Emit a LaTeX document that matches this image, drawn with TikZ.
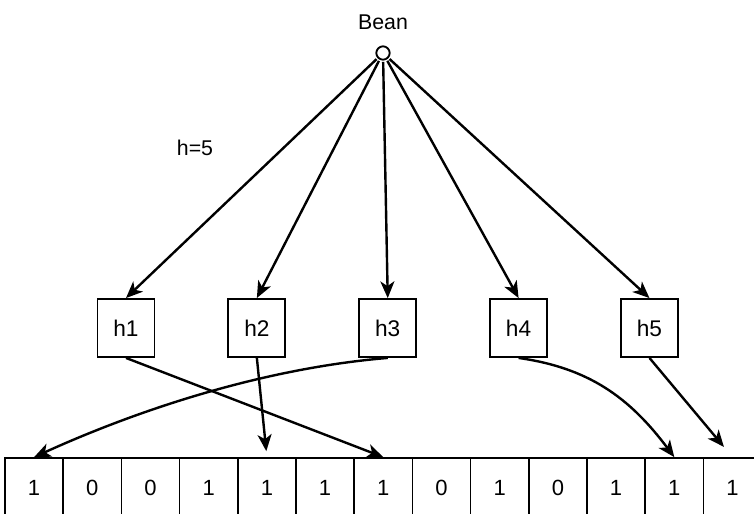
\documentclass[tikz,border=0pt]{standalone}
\usepackage{fontspec}
\setmainfont{Liberation Sans}
\usepackage{tikz}
\usetikzlibrary{positioning,arrows.meta}
\tikzset{>={Stealth[length=12.5pt,width=10.5pt,inset=3.5pt]}}
\tikzstyle{hashbox} = [draw=black, line width=1.4pt, fill=white, rectangle, minimum width=42.75pt, minimum height=43.5pt, inner sep=0pt, font=\fontsize{17pt}{20pt}\selectfont]
\tikzstyle{cell} = [draw=black, line width=1.3pt, rectangle, minimum width=43.65pt, minimum height=45pt, inner sep=0pt, font=\fontsize{16.5pt}{19pt}\selectfont]
\tikzstyle{src} = [draw=black, line width=1.4pt, fill=white, circle, minimum size=10pt, inner sep=0pt]
\tikzstyle{link} = [->, line width=1.8pt]

\begin{document}
\begin{tikzpicture}[x=0.75pt, y=-0.75pt, node distance=54pt]

    \useasboundingbox (0,0) rectangle (754,514);
    \clip (0,0) rectangle (754,514);

    % source element and its hash functions
    \node[src] (bean) at (383,53) {};
    \node[font=\fontsize{16pt}{19pt}\selectfont] (name) at (383,22) {Bean};
    \node[font=\fontsize{16pt}{19pt}\selectfont] (count) at (195,148) {h=5};

    \node[hashbox] (h1) at (126,328) {h1};
    \node[hashbox, right=of h1] (h2) {h2};
    \node[hashbox, right=of h2] (h3) {h3};
    \node[hashbox, right=of h3] (h4) {h4};
    \node[hashbox, right=of h4] (h5) {h5};

    % bit array
    \foreach \bit [count=\i] in {1,0,0,1,1,1,1,0,1,0,1,1,1}
        \node[cell] (c\i) at ({34.1+58.2*(\i-1)},488) {\bit};

    \foreach \k in {1,...,5}
        \draw[link, shorten <=1pt] (bean) -- (h\k.north);

    \draw[link] (h1.south) -- (c7.north);
    \draw[link, shorten >=4.5pt] (h2.south) -- (c5.north);
    \draw[link] (h3.south) .. controls +(-120,10) and +(110,-50) .. (c1.north);
    \draw[link] (h4.south) .. controls +(70,10) and +(-45,-60) .. (c12.north);
    \draw[link, shorten >=10pt] (h5.south) -- (c13.north);

\end{tikzpicture}
\end{document}
